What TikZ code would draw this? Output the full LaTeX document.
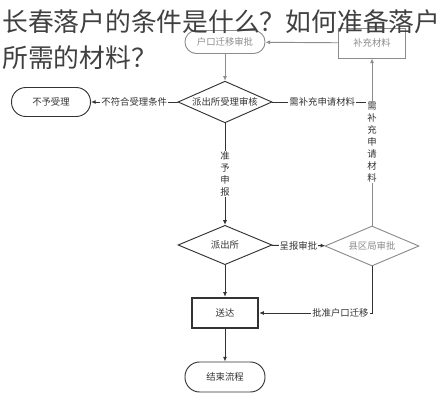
\documentclass[tikz,border=0pt]{standalone}
\usepackage{fontspec}
\setmainfont{Noto Sans CJK SC}
\usetikzlibrary{shapes.geometric,arrows.meta}
\definecolor{ink}{gray}{0.2}
\definecolor{pale}{gray}{0.55}
\begin{document}
\begin{tikzpicture}
  [ x=0.03cm, y=-0.03cm,
    term/.style={draw=ink, text=ink, line width=0.8pt, minimum width=2.4cm,
    font=\fontsize{8}{10}\selectfont},
    box/.style={draw=ink, text=ink, line width=0.8pt,
    font=\fontsize{8}{10}\selectfont},
    dec/.style={diamond, aspect=2.2, draw=ink, text=ink, line width=0.8pt,
    inner sep=0pt, minimum width=2.82cm, minimum height=1.25cm,
    font=\fontsize{8}{10}\selectfont},
    greyed/.style={draw=pale, text=pale},
    flow/.style={draw=ink, line width=0.8pt, -{Latex[length=4pt,width=3.5pt]}},
    lbl/.style={fill=white, text=ink, inner sep=1pt,
    font=\fontsize{8}{10}\selectfont},
    vlbl/.style={fill=white, text=ink, inner sep=1pt, align=center,
    font=\fontsize{8}{10.2}\selectfont}
  ]
  \useasboundingbox (0,0) rectangle (441,400);

  \node (start)   at (225, 42) [term, greyed, minimum height=0.69cm, rounded corners=0.34cm] {户口迁移审批};
  \node (extra)   at (372, 43) [box, greyed, minimum width=2.01cm, minimum height=0.9cm] {补充材料};
  \node (check)   at (225,102) [dec] {派出所受理审核};
  \node (reject)  at ( 51,102) [term, minimum width=2.37cm, minimum height=0.87cm, rounded corners=0.43cm] {不予受理};
  \node (station) at (225,245) [dec, minimum height=1.18cm] {派出所};
  \node (county)  at (372,246) [dec, greyed, minimum height=1.2cm] {县区局审批};
  \node (deliver) at (225,313) [box, line width=2pt, minimum width=1.98cm, minimum height=0.9cm] {送达};
  \node (finish)  at (225,377) [term, minimum height=0.9cm, rounded corners=0.44cm] {结束流程};
  \coordinate (join) at (372,102);

  \draw [flow, draw=pale] (extra) -- (start);
  \draw [flow, draw=pale] (start) -- (check);
  \draw [flow] (check) -- node [lbl] {不符合受理条件} (reject);
  \draw [draw=ink, line width=0.8pt] (check.east) -- node [lbl] {需补充申请材料} (join);
  \draw [flow, draw=pale] (county.north) -- node [vlbl] {需\\补\\充\\申\\请\\材\\料} (extra.south);
  \draw [flow] (check) -- node [vlbl] {准\\予\\申\\报} (station);
  \draw [flow] (station) -- node [lbl] {呈报审批} (county);
  \draw [flow] (station) -- (deliver);
  \draw [flow] (county.south) |- node [lbl, pos=0.64] {批准户口迁移} (deliver.east);
  \draw [flow] (deliver) -- (finish);

  \node (title1) at (2,22) [anchor=west, inner sep=0pt, text=black!75,
    font=\fontsize{22}{26}\selectfont] {长春落户的条件是什么？如何准备落户};
  \node (title2) at (2,58) [anchor=west, inner sep=0pt, text=black!75,
    font=\fontsize{22}{26}\selectfont] {所需的材料？};
\end{tikzpicture}
\end{document}
